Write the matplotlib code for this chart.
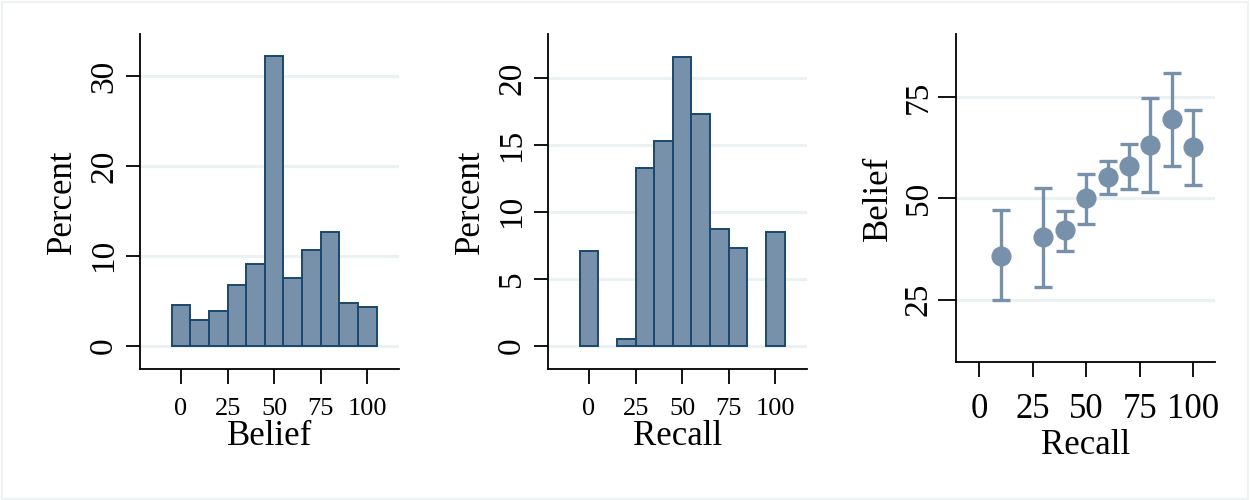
import matplotlib
matplotlib.use("Agg")
import matplotlib.pyplot as plt
from matplotlib.patches import Rectangle

plt.rcParams['font.family'] = ['Liberation Serif', 'DejaVu Serif']

# ---------------- data ----------------
bin_centers = [0, 10, 20, 30, 40, 50, 60, 70, 80, 90, 100]
belief_pct = [4.5, 2.9, 3.9, 6.7, 9.1, 32.2, 7.5, 10.7, 12.7, 4.8, 4.3]
recall_pct = [7.1, 0.0, 0.5, 13.3, 15.3, 21.6, 17.3, 8.75, 7.3, 0.0, 8.5]

recall_x = [10, 30, 40, 50, 60, 70, 80, 90, 100]
belief_mean = [35.9, 40.4, 42.1, 50.0, 55.2, 57.9, 63.3, 69.5, 62.6]
belief_lo = [25.0, 28.2, 37.1, 43.7, 51.2, 52.4, 51.7, 58.0, 53.4]
belief_hi = [47.1, 52.5, 47.0, 56.0, 59.2, 63.4, 74.8, 81.0, 71.8]

hist_xticks = [0, 25, 50, 75, 100]
p1_yticks = [0, 10, 20, 30]
p2_yticks = [0, 5, 10, 15, 20]
p3_yticks = [25, 50, 75]

# ---------------- style ----------------
FILL = '#7891aa'
EDGE = '#1a476f'
GRID = '#eaf2f3'
W, H = 1250, 500

fig = plt.figure(figsize=(12.5, 5), dpi=100)
fig.patch.set_facecolor('white')
fig.add_artist(Rectangle((2 / W, 1 / H), 1 - 4 / W, 1 - 3 / H, transform=fig.transFigure,
                         fill=False, edgecolor='#eef2f2', linewidth=1.5))


def make_ax(left, right, top, bottom):
    return fig.add_axes([left / W, 1 - bottom / H, (right - left) / W, (bottom - top) / H])


def style(ax, xtick_size, xpad, xlen, ytick_size, ypad, ylen):
    for s in ['top', 'right']:
        ax.spines[s].set_visible(False)
    for s in ['left', 'bottom']:
        ax.spines[s].set_linewidth(1.3)
        ax.spines[s].set_color('black')
    ax.tick_params(axis='x', length=xlen, width=1.3, color='black',
                   labelsize=xtick_size, pad=xpad)
    ax.tick_params(axis='y', length=ylen, width=1.3, color='black',
                   labelsize=ytick_size, pad=ypad)
    for lab in ax.get_yticklabels():
        lab.set_rotation(90)
        lab.set_va('center')
    ax.grid(axis='y', color=GRID, linewidth=2.2)
    ax.set_axisbelow(True)
    ax.set_facecolor('white')


def hist_bars(ax, centers, heights):
    xs = [c for c, h in zip(centers, heights) if h > 0]
    hs = [h for h in heights if h > 0]
    ax.bar(xs, hs, width=10, color=FILL, edgecolor=EDGE, linewidth=1.4)


# Panel 1: Belief histogram
ax1 = make_ax(140, 399, 34, 369)
hist_bars(ax1, bin_centers, belief_pct)
ax1.set_xlim(-22, 117)
ax1.set_ylim(-2.6, 34.7)
ax1.set_xticks(hist_xticks)
ax1.set_yticks(p1_yticks)
style(ax1, 19, 10, 11, 24, 5, 10)
ax1.set_xlabel('Belief', fontsize=25, labelpad=0)
ax1.set_ylabel('Percent', fontsize=25, labelpad=7)

# Panel 2: Recall histogram
ax2 = make_ax(548, 807, 34, 369)
hist_bars(ax2, bin_centers, recall_pct)
ax2.set_xlim(-22, 117)
ax2.set_ylim(-1.75, 23.3)
ax2.set_xticks(hist_xticks)
ax2.set_yticks(p2_yticks)
style(ax2, 19, 10, 11, 24, 5, 10)
ax2.set_xlabel('Recall', fontsize=25, labelpad=0)
ax2.set_ylabel('Percent', fontsize=25, labelpad=7)

# Panel 3: Belief vs Recall with CIs
ax3 = make_ax(956, 1215, 34, 362)
yerr = [[m - lo for m, lo in zip(belief_mean, belief_lo)],
        [hi - m for m, hi in zip(belief_mean, belief_hi)]]
ax3.errorbar(recall_x, belief_mean, yerr=yerr, fmt='o', color=FILL, ecolor=FILL,
             markersize=13.5, elinewidth=2.4, capsize=6.6, capthick=2.4)
ax3.set_xlim(-10.9, 110.3)
ax3.set_ylim(9.6, 90.6)
ax3.set_xticks(hist_xticks)
ax3.set_yticks(p3_yticks)
style(ax3, 25, 11.5, 11, 24, 3, 13)
ax3.set_xlabel('Recall', fontsize=25, labelpad=2)
ax3.set_ylabel('Belief', fontsize=25, labelpad=6)

fig.savefig('out.png', dpi=100, facecolor='white')
